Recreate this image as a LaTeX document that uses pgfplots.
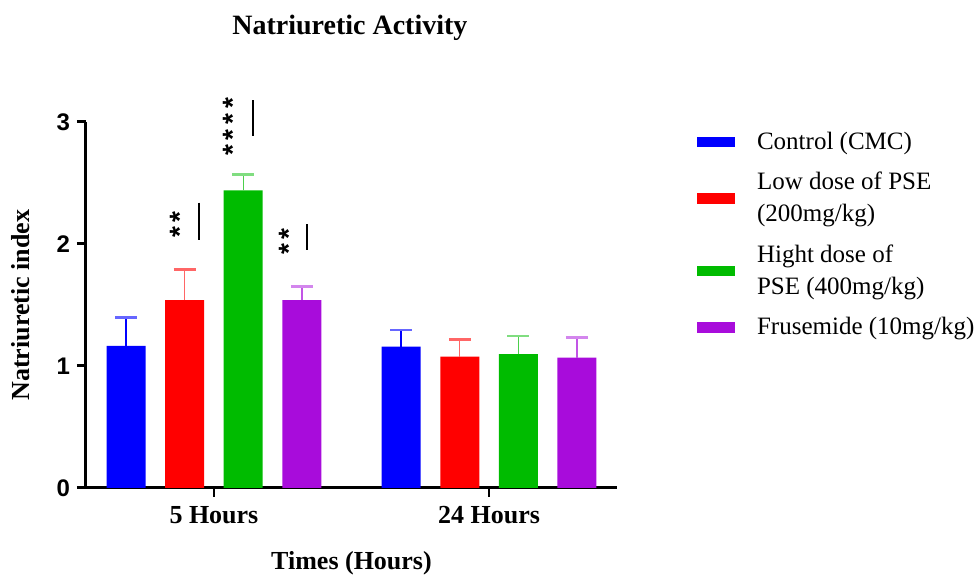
\documentclass[border=0pt]{standalone}
\usepackage{pgfplots}
\pgfplotsset{compat=1.18}
\usepackage{pgfplotstable}
\usepackage{fontspec}
\setmainfont{Liberation Serif}
\setsansfont{Liberation Sans}
\definecolor{cblue}{RGB}{0,0,255}
\definecolor{cred}{RGB}{255,0,0}
\definecolor{cgreen}{RGB}{0,187,0}
\definecolor{cpurple}{RGB}{168,12,219}
\pgfplotstableread{
x y e
0 1.165 0.235
1 1.158 0.137
}\ctrl
\pgfplotstableread{
x y e
0 1.54 0.25
1 1.076 0.144
}\low
\pgfplotstableread{
x y e
0 2.44 0.13
1 1.098 0.148
}\high
\pgfplotstableread{
x y e
0 1.54 0.11
1 1.068 0.164
}\frus
\begin{document}
\begin{tikzpicture}
\path[use as bounding box] (-43pt,-44pt) rectangle (444pt,244pt);
\begin{axis}[
  at={(0pt,0pt)}, anchor=south west,
  scale only axis, width=265.5pt, height=183pt,
  ybar=9.8pt, bar width=19.5pt,
  xmin=-0.465, xmax=1.465, ymin=0, ymax=3,
  xtick={0,1}, xticklabels={5 Hours,24 Hours},
  ytick={0,1,2,3},
  axis x line*=bottom, axis y line*=left,
  axis line style={line width=1.5pt, -},
  tick align=outside, major tick length=4.5pt,
  ytick style={line width=1.5pt, black},
  xtick style={line width=1pt, black},
  x tick label style={font=\fontsize{13}{15}\selectfont\bfseries, yshift=-1pt},
  y tick label style={font=\fontsize{12}{14}\selectfont\sffamily\bfseries, /pgf/number format/assume math mode=true},
  xlabel={Times (Hours)}, ylabel={Natriuretic index},
  every axis x label/.style={at={(axis description cs:0.5,-0.205)}, anchor=center, font=\fontsize{13}{15}\selectfont\bfseries},
  every axis y label/.style={at={(axis description cs:-0.124,0.5)}, anchor=center, rotate=90, font=\fontsize{13}{15}\selectfont\bfseries},
  clip=false,
  legend style={at={(rel axis cs:1.15,0.985)}, anchor=north west, draw=none, fill=none,
     font=\fontsize{12.5}{16}\selectfont, cells={anchor=west, align=left},
     row sep=6pt, column sep=9pt, inner sep=0pt},
  legend image code/.code={\fill[#1] (0pt,-2.6pt) rectangle (19pt,2.6pt);},
  every axis plot/.append style={draw=none},
  error bars/y dir=plus, error bars/y explicit,
]
\addplot[fill=cblue, error bars/error bar style={cblue, line width=0.7pt}, error bars/error mark options={cblue!60, rotate=90, mark size=5.5pt, line width=1.4pt}] table[x=x,y=y,y error=e]{\ctrl};
\addplot[fill=cred, error bars/error bar style={cred!60, line width=0.7pt}, error bars/error mark options={cred!60, rotate=90, mark size=5.5pt, line width=1.4pt}] table[x=x,y=y,y error=e]{\low};
\addplot[fill=cgreen, error bars/error bar style={cgreen!70, line width=0.7pt}, error bars/error mark options={cgreen!50, rotate=90, mark size=5.5pt, line width=1.4pt}] table[x=x,y=y,y error=e]{\high};
\addplot[fill=cpurple, error bars/error bar style={cpurple!70, line width=0.7pt}, error bars/error mark options={cpurple!50, rotate=90, mark size=5.5pt, line width=1.4pt}] table[x=x,y=y,y error=e]{\frus};
\legend{Control (CMC),{Low dose of PSE\\(200mg/kg)},{Hight dose of\\PSE (400mg/kg)},Frusemide (10mg/kg)}
\node[rotate=90, font=\fontsize{14}{14}\selectfont\sffamily\bfseries, inner sep=0pt] at (axis cs:-0.124,2.16) {*\,*};
\draw[line width=1pt] (axis cs:-0.055,2.34) -- (axis cs:-0.055,2.03);
\node[rotate=90, font=\fontsize{14}{14}\selectfont\sffamily\bfseries, inner sep=0pt] at (axis cs:0.069,2.96) {*\,*\,*\,*};
\draw[line width=1pt] (axis cs:0.142,3.18) -- (axis cs:0.142,2.885);
\node[rotate=90, font=\fontsize{14}{14}\selectfont\sffamily\bfseries, inner sep=0pt] at (axis cs:0.273,2.02) {*\,*};
\draw[line width=1pt] (axis cs:0.338,2.16) -- (axis cs:0.338,1.95);
\node[font=\fontsize{14}{16}\selectfont\bfseries] at (rel axis cs:0.497,1) [yshift=47pt] {Natriuretic Activity};
\end{axis}
\end{tikzpicture}
\end{document}
